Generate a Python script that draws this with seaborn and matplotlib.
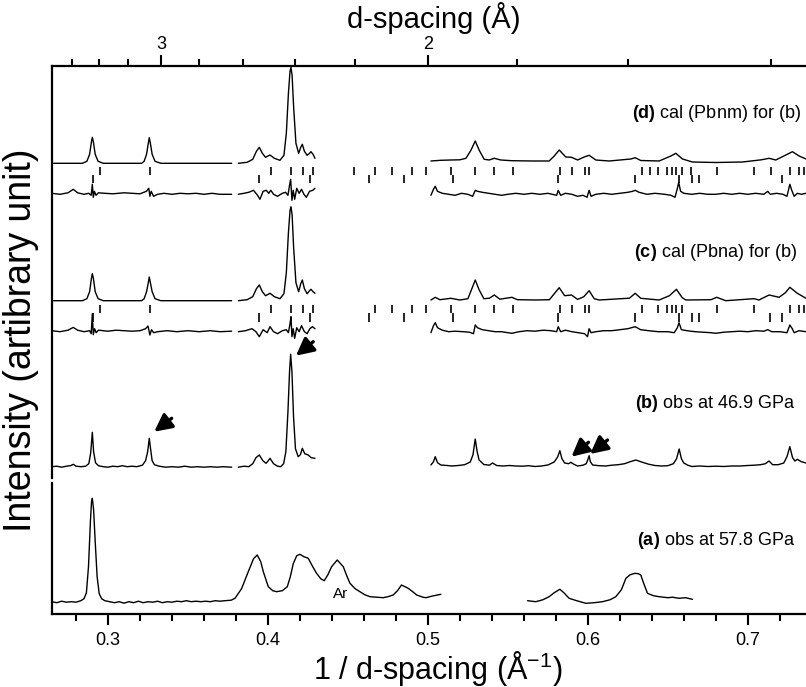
import matplotlib
matplotlib.use("Agg")
from matplotlib import pyplot as plt
from matplotlib.ticker import MultipleLocator
import numpy as np
import pandas as pd
import seaborn as sns

# ---- data (x = 1/d in 1/A, h = height above each trace's baseline) ----
d_calc_x = [[0.2648, 0.284, 0.2868, 0.2885, 0.2896, 0.2902, 0.2909, 0.2920, 0.2938, 0.297, 0.321, 0.3226, 0.3241,
             0.3252, 0.3258, 0.3265, 0.3276, 0.3294, 0.333, 0.3773],
            [0.3815, 0.387, 0.3905, 0.3928, 0.3946, 0.3965, 0.3985, 0.4013, 0.4040, 0.4075, 0.4100, 0.4115, 0.4128,
             0.4138, 0.4144, 0.4151, 0.4161, 0.4175, 0.4192, 0.4205, 0.4215, 0.4228, 0.4245, 0.4260, 0.4269, 0.4282, 0.4294],
            [0.5019, 0.5080, 0.5144, 0.5200, 0.5238, 0.5269, 0.5296, 0.5321, 0.5352, 0.5383, 0.5415, 0.5456, 0.5525,
             0.5650, 0.5758, 0.579, 0.5821, 0.5862, 0.5898, 0.5936, 0.5977, 0.6008, 0.605, 0.6133, 0.6269, 0.6296,
             0.6331, 0.6446, 0.6519, 0.655, 0.6592, 0.6654, 0.68, 0.6967, 0.7085, 0.7133, 0.7175, 0.7238, 0.7279,
             0.7321, 0.7364]]
d_calc_h = [[0, 0, 2, 9, 21, 26, 21, 9, 2, 0, 0, 2, 9, 20, 25.6, 20, 9, 2, 0, 0],
            [0, 1, 4, 12, 16, 10, 6, 8.3, 5, 3, 8, 30, 70, 92, 96, 88, 55, 20, 10, 16, 19, 12, 8, 10, 11.6, 9, 5],
            [2.3, 3, 3.3, 3.5, 5, 13, 22.3, 13, 4, 3.3, 5, 3.3, 2.6, 2.3, 2.3, 7.3, 13.3, 6.3, 6, 3.3, 6.3, 8, 3.3,
             2.3, 4.3, 5.6, 2.8, 2.3, 7.3, 10, 4.3, 1.3, 0.8, 1.3, 3.5, 5, 3.3, 8.3, 11.6, 7.3, 4.3]]

c_calc_x = [d_calc_x[0], d_calc_x[1],
            [0.5019, 0.5046, 0.5075, 0.5144, 0.52, 0.5250, 0.5275, 0.5296, 0.5320, 0.5350, 0.5385, 0.5415, 0.5450,
             0.5525, 0.5560, 0.5675, 0.5760, 0.5790, 0.5821, 0.5855, 0.5898, 0.5936, 0.5975, 0.6008, 0.6040, 0.6071,
             0.6260, 0.6296, 0.6331, 0.6446, 0.6510, 0.6554, 0.6590, 0.6613, 0.6770, 0.6806, 0.6862, 0.7039, 0.707,
             0.7133, 0.7196, 0.7235, 0.7263, 0.731, 0.7364]]
c_calc_h = [[0, 0, 2, 9, 22, 27, 22, 9, 2, 0, 0, 2, 9, 18, 23.7, 18, 9, 2, 0, 0],
            [0, 1, 4, 12, 15.7, 9, 5, 7.4, 4, 2, 7, 28, 68, 90, 94, 86, 52, 18, 9, 17, 20.7, 12, 7, 10, 11.4, 9, 7.4],
            [0.7, 3.4, 1, 2.4, 0.7, 2, 12, 20.7, 11, 2, 2.5, 5.7, 1.5, 3.4, 1, 0.7, 1, 7, 13, 5, 5.7, 1.3, 4, 10, 2,
             0.7, 2.5, 7.4, 2.4, 0.7, 5, 11.4, 3, 0.7, 1, 3.4, 0, 2, 0.7, 5.7, 3.4, 8, 13.4, 7.4, 2.4]]

d_diff_x = [[0.2648, 0.270, 0.275, 0.2783, 0.281, 0.285, 0.288, 0.2895, 0.2902, 0.2908, 0.2915, 0.2925, 0.294, 0.298,
             0.303, 0.31, 0.315, 0.32, 0.324, 0.3255, 0.3262, 0.327, 0.3285, 0.331, 0.335, 0.34, 0.345, 0.35, 0.355,
             0.36, 0.365, 0.37, 0.3773],
            [0.3815, 0.385, 0.388, 0.391, 0.3935, 0.3950, 0.397, 0.399, 0.4005, 0.4018, 0.4035, 0.406, 0.409, 0.411,
             0.4125, 0.4135, 0.4142, 0.415, 0.4158, 0.4167, 0.418, 0.4195, 0.421, 0.4225, 0.424, 0.426, 0.428, 0.4294],
            [0.5019, 0.5035, 0.5046, 0.506, 0.509, 0.513, 0.517, 0.521, 0.525, 0.528, 0.5296, 0.531, 0.534, 0.538,
             0.542, 0.546, 0.55, 0.555, 0.56, 0.565, 0.57, 0.575, 0.5805, 0.5815, 0.583, 0.586, 0.59, 0.5935, 0.597,
             0.5995, 0.6008, 0.602, 0.605, 0.61, 0.615, 0.62, 0.625, 0.628, 0.6296, 0.632, 0.637, 0.642, 0.648, 0.652,
             0.6545, 0.656, 0.6568, 0.658, 0.66, 0.665, 0.67, 0.675, 0.68, 0.685, 0.69, 0.695, 0.70, 0.705, 0.71,
             0.7125, 0.714, 0.718, 0.722, 0.7245, 0.7263, 0.7275, 0.729, 0.731, 0.7335, 0.7364]]
d_diff_h = [[0, -1, 0.5, 4, 0.5, -1, 0, -2, 9, -4, 2, -2, 0.5, 0, -0.5, 0.5, 0, -0.5, 2, 5, -3, 2, -3, -1, 0, -1, 0,
             -0.5, 0, -1, 0, -1, -1],
            [-1, 0, 1, 3, -2, -6, 2, 3, 0, 3, -1, -3, 0, 1, -2, 8, 14, -7, 3, -6, 5, 0, 4, -1, -4, 2, 3, 5],
            [-2, 4, 7, 2, 0, -1, -2, 0, -1, -3, 3, 2, 1, 0, -1, -2, -1, 0, -1, 0, -1, 0, -2, 3, -2, 0, -1, -3, -2,
             -4, 3, -3, -1, 0, -1, 0, 1, 2, 3, 1, -1, 0, -1, -2, -4, 5, 11, 2, 0, -1, 0, -1, -1, 0, -1, 0, -1, 0,
             -1, 2, -1, 0, -1, -3, 9, 3, -3, 0, -1, 0]]

c_diff_x = [[0.2648, 0.27, 0.275, 0.2783, 0.281, 0.285, 0.2885, 0.2895, 0.2902, 0.2908, 0.2916, 0.2926, 0.294, 0.30,
             0.305, 0.31, 0.315, 0.32, 0.3235, 0.3250, 0.3262, 0.3272, 0.3285, 0.331, 0.337, 0.343, 0.35, 0.357,
             0.364, 0.37, 0.3773],
            [0.3815, 0.386, 0.390, 0.3925, 0.3946, 0.397, 0.3995, 0.4013, 0.4035, 0.406, 0.409, 0.4115, 0.4128,
             0.4138, 0.4144, 0.4150, 0.4158, 0.4167, 0.4180, 0.4195, 0.4210, 0.4228, 0.4245, 0.4262, 0.4278, 0.4294],
            [0.5019, 0.5035, 0.5046, 0.506, 0.509, 0.513, 0.517, 0.522, 0.526, 0.5285, 0.5296, 0.531, 0.534, 0.538,
             0.542, 0.546, 0.5525, 0.557, 0.562, 0.567, 0.572, 0.577, 0.5805, 0.5815, 0.583, 0.586, 0.59, 0.594,
             0.598, 0.5998, 0.6008, 0.602, 0.605, 0.61, 0.615, 0.62, 0.625, 0.6296, 0.633, 0.638, 0.644, 0.650,
             0.654, 0.6560, 0.6570, 0.6585, 0.662, 0.667, 0.672, 0.677, 0.68, 0.685, 0.69, 0.695, 0.70, 0.705, 0.71,
             0.7125, 0.715, 0.72, 0.7245, 0.7263, 0.7278, 0.729, 0.732, 0.7364]]
c_diff_h = [[0, -1, 0.5, 3.3, 0.5, -1, 0, -3, 17, -4, 2, -2, 0.5, -0.5, 0.5, 0, -0.5, 0, 2, 4.7, -4.3, 1, -2, -1, 0,
             -1, 0, -1, 0, -1, -0.5],
            [-1, 0, 2, -1, -6, 1, -2, 4, -1, -3, 0, 1, -2, 7, 14, -6, 2, -7.7, 3, -1, 5, -1, -3, 2, 4, 2],
            [-2, 5, 8, 3, 0.5, -1, -0.5, -1, -1.5, -3, 5.7, 3, 1, 0, -1, -1, -2.6, -1, 0, -0.5, 0.5, 0, -1, 4, -1,
             0.5, -1, -2, -3, -6, 2, -2, -1, 0, 0, 1, 2, 4, 1, 0, -1, -1, -2, 3, 8, 1, 0, -1, -1.5, -2, -2.6, -1.5,
             -1, -0.5, -1, 0, -0.5, 1, -1, -1, -2, 5.7, 2, -2, 0, -1]]

b_obs_x = [[0.2648, 0.268, 0.271, 0.274, 0.2765, 0.2783, 0.280, 0.283, 0.286, 0.2880, 0.2892, 0.2902, 0.2910, 0.2922,
            0.294, 0.297, 0.300, 0.303, 0.306, 0.309, 0.312, 0.315, 0.318, 0.3215, 0.3235, 0.3248, 0.3258, 0.3266,
            0.3276, 0.329, 0.332, 0.336, 0.34, 0.344, 0.348, 0.352, 0.356, 0.36, 0.364, 0.368, 0.372, 0.3773],
           [0.3815, 0.385, 0.388, 0.3905, 0.3925, 0.3946, 0.3968, 0.3988, 0.4002, 0.4013, 0.4035, 0.4060, 0.4080,
            0.4098, 0.4112, 0.4125, 0.4135, 0.4142, 0.4150, 0.4160, 0.4172, 0.4189, 0.4203, 0.4215, 0.4230, 0.4252,
            0.4270, 0.4294],
           [0.5019, 0.5035, 0.5046, 0.5060, 0.5081, 0.512, 0.515, 0.519, 0.523, 0.5265, 0.5282, 0.5296, 0.5308,
            0.532, 0.535, 0.5385, 0.5404, 0.543, 0.547, 0.551, 0.555, 0.559, 0.563, 0.567, 0.571, 0.575, 0.579,
            0.5812, 0.5825, 0.5838, 0.5855, 0.5880, 0.5894, 0.5912, 0.5936, 0.5970, 0.5990, 0.6000, 0.6008, 0.6016,
            0.6030, 0.607, 0.611, 0.615, 0.619, 0.623, 0.6265, 0.6300, 0.634, 0.638, 0.642, 0.646, 0.650, 0.6535,
            0.6555, 0.6571, 0.6585, 0.6600, 0.6625, 0.665, 0.670, 0.675, 0.680, 0.685, 0.690, 0.695, 0.700, 0.704,
            0.708, 0.7110, 0.7133, 0.7155, 0.7190, 0.7225, 0.7245, 0.7263, 0.7280, 0.7295, 0.7310, 0.7335, 0.7364]]
b_obs_h = [[0, 0.5, -0.5, 0.5, 1, 2.4, 0.5, 0, 0.5, 3, 14, 34.4, 15, 4, 1, 0, -0.5, 0.5, 0, 1, 0, 0.5, 0, 1.5, 6,
            15, 28.4, 18, 6, 2, 0.5, -0.5, 0, -0.5, 0.5, -0.5, 0, -0.5, 0, -0.5, 0, -0.5],
           [-0.5, 0.5, 0, 3, 9, 11.7, 6, 3.4, 6, 8.4, 3, 0.5, 0, 3, 15, 55, 95, 112.4, 95, 50, 18, 10, 12, 18.4, 13,
            11.7, 9, 8.4],
           [1.7, 5, 10, 4, 1.7, 1.2, 0.7, 1.2, 2, 4.7, 12, 27.7, 15, 6.7, 2.2, 1.5, 3.7, 1.2, 0.7, 1.2, 0.7, 0.5, 1,
            0.2, 0.7, 1.7, 4.7, 10, 16, 8, 3.7, 3, 4.4, 2.5, 0.7, 1.5, 3, 7, 11, 5, 1.7, 1, 0.7, 1.5, 2, 3, 5, 6.7,
            4.5, 2.5, 1.2, 0.7, 1, 3, 8, 17.7, 8, 3.7, 1.5, 0.2, 0.7, 0.2, 0.5, 0.2, 0.7, 0.7, 1.2, 1.5, 2, 3, 5.7,
            2, 2, 3.7, 10, 20, 9, 5.7, 7.4, 5, 3.7]]

a_obs_x = [[0.2648, 0.268, 0.271, 0.274, 0.277, 0.280, 0.2830, 0.2850, 0.2865, 0.2878, 0.2890, 0.2897, 0.2902,
            0.2910, 0.2920, 0.2932, 0.2945, 0.296, 0.298, 0.301, 0.304, 0.307, 0.310, 0.313, 0.316, 0.319, 0.322,
            0.325, 0.328, 0.331, 0.334, 0.337, 0.340, 0.343, 0.346, 0.349, 0.352, 0.355, 0.358, 0.361, 0.364, 0.367,
            0.370, 0.373, 0.3770, 0.3794, 0.3835, 0.3877, 0.3910, 0.3933, 0.3955, 0.3971, 0.4002, 0.4030, 0.4054,
            0.4090, 0.4121, 0.4140, 0.4158, 0.4180, 0.4200, 0.4225, 0.4252, 0.4280, 0.4304, 0.4330, 0.4352, 0.4375,
            0.4398, 0.4433, 0.4471, 0.4495, 0.4513, 0.4545, 0.4575, 0.4605, 0.4638, 0.4680, 0.4721, 0.4750, 0.4783,
            0.4810, 0.4835, 0.4877, 0.4905, 0.4930, 0.4971, 0.4988, 0.5029, 0.5081],
           [0.5623, 0.5675, 0.5720, 0.5758, 0.5790, 0.5825, 0.5850, 0.5883, 0.5930, 0.5988, 0.6040, 0.6092, 0.6140,
            0.6175, 0.6210, 0.6238, 0.6265, 0.6296, 0.6315, 0.6331, 0.6350, 0.6373, 0.6410, 0.6446, 0.650, 0.6530,
            0.657, 0.6610, 0.6654]]
a_obs_h = [[0, -1, 0.5, -0.5, 0, -0.5, 1, 3, 9, 35, 80, 100, 103.4, 92, 60, 25, 8, 3, 1, 0, -1, 0, -1.5, 0, -1, 0.5,
            -1, 0, -0.5, 0.5, -1, 0, -0.5, 0.5, 0, 1, 0, 0.5, 0, 0.5, 0, 1, 0.5, 1, 1.5, 3.4, 13, 30, 43, 46.7, 40,
            30, 15, 11, 10, 11, 15, 25, 38, 46, 47.4, 45, 43.4, 35, 28.4, 23, 21, 27, 35, 41.7, 35, 25, 18.4, 13, 10,
            7, 5, 4.5, 4, 5, 6.7, 11, 16.7, 13.4, 10, 6.7, 4.4, 4, 5.7, 7.4],
           [1, 0, 2, 5, 9, 12.4, 9, 3.4, 1, -1.6, -1, 0, 2, 5, 12, 23.4, 27, 28.4, 28, 26.7, 18, 8.4, 6, 5, 4, 4.5,
            3.4, 4, 2.4]]

# reflection positions (two rows each)
d_refl_upper = [0.295, 0.3263, 0.4017, 0.4142, 0.4217, 0.4283, 0.4538, 0.4669, 0.4773, 0.4902, 0.4986, 0.5144,
                0.5296, 0.5414, 0.5529, 0.5825, 0.5898, 0.5981, 0.6008, 0.6338, 0.6388, 0.6440, 0.6492, 0.6525,
                0.6554, 0.6588, 0.6644, 0.6806, 0.7039, 0.7144, 0.7263, 0.7321, 0.7352]
d_refl_lower = [0.2904, 0.3946, 0.4263, 0.4631, 0.4852, 0.5160, 0.5815, 0.6296, 0.6567, 0.6654, 0.6696, 0.7213]
c_refl_upper = [0.295, 0.3263, 0.4017, 0.4142, 0.4217, 0.4283, 0.4669, 0.4773, 0.4902, 0.4986, 0.5144, 0.5296,
                0.5414, 0.5529, 0.5825, 0.5898, 0.5981, 0.6008, 0.6338, 0.6440, 0.6492, 0.6525, 0.6554, 0.6588,
                0.6806, 0.7039, 0.7263, 0.7321, 0.7352]
c_refl_lower = [0.2904, 0.3946, 0.4263, 0.4631, 0.4852, 0.5160, 0.5815, 0.6296, 0.6567, 0.6654, 0.6696, 0.7139,
                0.7213]

labels = {"d": ("d", "cal (Pbnm) for (b)"), "c": ("c", "cal (Pbna) for (b)"),
          "b": ("b", "obs at 46.9 GPa"), "a": ("a", "obs at 57.8 GPa")}
d_ticks_major = [3, 2]
d_ticks_minor = [3.6, 3.4, 3.2, 2.8, 2.6, 2.4, 2.2, 1.8, 1.6, 1.4]

# vertical offsets of each trace (upper panel units)
offsets = {"d_calc": 314.7, "d_diff": 284.7, "c_calc": 177.3, "c_diff": 147.3, "b_obs": 11.3, "a_obs": 12.3}


def to_frame(name, xs, hs):
    rows = []
    for i, (sx, sh) in enumerate(zip(xs, hs)):
        rows.append(pd.DataFrame({"x": sx, "y": np.array(sh) + offsets[name], "seg": i}))
    df = pd.concat(rows, ignore_index=True)
    df["trace"] = name
    return df


upper = pd.concat([to_frame("d_calc", d_calc_x, d_calc_h), to_frame("d_diff", d_diff_x, d_diff_h),
                   to_frame("c_calc", c_calc_x, c_calc_h), to_frame("c_diff", c_diff_x, c_diff_h),
                   to_frame("b_obs", b_obs_x, b_obs_h)], ignore_index=True)
upper["unit"] = upper["trace"] + upper["seg"].astype(str)
lower = to_frame("a_obs", a_obs_x, a_obs_h)

sns.set_style("ticks")
plt.rcParams["font.family"] = ["Liberation Sans", "DejaVu Sans"]
plt.rcParams["mathtext.fontset"] = "custom"
plt.rcParams["mathtext.rm"] = "Liberation Sans"
plt.rcParams["mathtext.bf"] = "Liberation Sans:bold"
for key in ["text.color", "axes.edgecolor", "axes.labelcolor", "xtick.color", "ytick.color"]:
    plt.rcParams[key] = "black"

W, H = 806, 687
fig = plt.figure(figsize=(W / 100, H / 100), dpi=100)
L, R = 51.7, 806
ax = fig.add_axes([L / W, 1 - 478 / H, (R - L) / W, 412.3 / H])
axb = fig.add_axes([L / W, 1 - 614 / H, (R - L) / W, 131 / H])

xlim = (0.2648, 0.7364)
lw = 1.0
sns.lineplot(data=upper, x="x", y="y", units="unit", estimator=None, sort=False, color="black", lw=lw, ax=ax)
sns.lineplot(data=lower, x="x", y="y", units="seg", estimator=None, sort=False, color="black", lw=lw, ax=axb)

# reflection markers
ax.vlines(d_refl_upper, 303, 311.3, color="black", lw=1.2)
ax.vlines(d_refl_lower, 295.3, 303, color="black", lw=1.2)
ax.vlines(c_refl_upper, 164.7, 173, color="black", lw=1.2)
ax.vlines(c_refl_lower, 156.3, 164.7, color="black", lw=1.2)

# arrows on the observed pattern (b)
arrows = [((0.3398, 59.7), (0.3289, 46.3)), ((0.4283, 136.3), (0.4175, 122.3)),
          ((0.6004, 35.7), (0.5898, 21.3)), ((0.6123, 38.0), (0.6014, 24.0))]
for tail, head in arrows:
    ax.annotate("", xy=head, xytext=tail,
                arrowprops=dict(arrowstyle="-|>,head_length=0.75,head_width=0.38", color="black", lw=2.4,
                                shrinkA=0, shrinkB=0, mutation_scale=14))

axb.text(0.4454, 19.7, "Ar", fontsize=11, ha="center", va="center")

for a in (ax, axb):
    a.set_xlim(*xlim)
    a.set_yticks([])
    a.set_xlabel("")
    a.set_ylabel("")
    a.spines["right"].set_visible(False)
    for s in a.spines.values():
        s.set_linewidth(1.6)

ax.set_ylim(0, 412.3)
axb.set_ylim(0, 131)
ax.spines["bottom"].set_visible(False)
axb.spines["top"].set_visible(False)

# top axis: d-spacing
ax.xaxis.set_ticks_position("top")
ax.set_xticks([1 / d for d in d_ticks_major], labels=[str(d) for d in d_ticks_major])
ax.set_xticks([1 / d for d in d_ticks_minor], minor=True)
ax.tick_params(axis="x", which="major", direction="out", length=8, width=1.5, labelsize=13, pad=1)
ax.tick_params(axis="x", which="minor", direction="out", length=5, width=1.5)

# bottom axis: 1/d
axb.set_xticks([0.3, 0.4, 0.5, 0.6, 0.7], labels=["0.3", "0.4", "0.5", "0.6", "0.7"])
axb.xaxis.set_minor_locator(MultipleLocator(0.02))
axb.tick_params(axis="x", which="major", direction="out", length=8, width=1.5, labelsize=13, pad=5)
axb.tick_params(axis="x", which="minor", direction="out", length=5, width=1.5)

fig.text(434 / W, 1 - 18 / H, "d-spacing (Å)", fontsize=21, ha="center", va="center")
fig.text(438 / W, 1 - 668 / H, "1 / d-spacing (Å$^{-1}$)", fontsize=22, ha="center", va="center")
fig.text(21 / W, 1 - 340 / H, "Intensity (artibrary unit)", fontsize=27, rotation=90, ha="center", va="center")

label_pos = {"d": (801, 113.3), "c": (796.7, 252.7), "b": (795.3, 404), "a": (795.3, 540.7)}
for key, (bold, rest) in labels.items():
    px, py = label_pos[key]
    fig.text(px / W, 1 - py / H, r"$\mathbf{(" + bold + r")}$ " + rest, fontsize=13, ha="right", va="center")

fig.savefig("out.png", dpi=100)
